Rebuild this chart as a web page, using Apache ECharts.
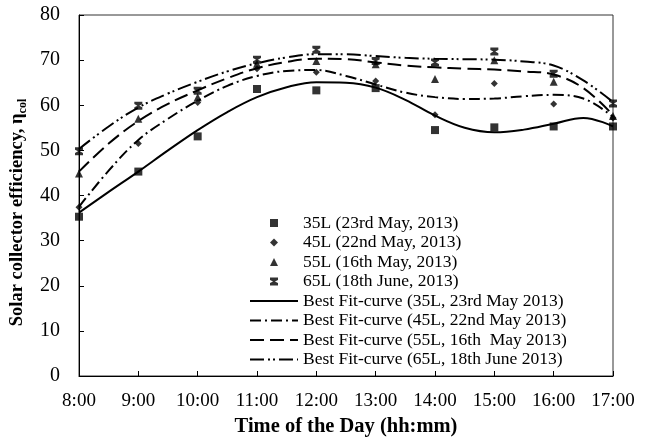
<!DOCTYPE html>
<html>
<head>
<meta charset="utf-8">
<script src="https://cdn.jsdelivr.net/npm/echarts@6/dist/echarts.min.js"></script>
<style>
html,body{margin:0;padding:0;background:#fff;}
#chart{width:652px;height:438px;}
</style>
</head>
<body>
<div id="chart"></div>
<script>
// ---- data ----
var hourX = [8, 9, 10, 11, 12, 13, 14, 15, 16, 17];
var tickLabels = ['8:00', '9:00', '10:00', '11:00', '12:00', '13:00', '14:00', '15:00', '16:00', '17:00'];

var meas35 = [35.3, 45.3, 53.1, 63.6, 63.3, 63.8, 54.5, 55.1, 55.3, 55.3];
var meas45 = [37.4, 51.5, 60.6, 68.1, 67.3, 65.4, 57.9, 64.8, 60.3, 57.2];
var meas55 = [44.9, 57.0, 61.8, 69.2, 69.8, 69.1, 65.8, 70.0, 65.2, 57.6];
var meas65 = [49.8, 59.9, 63.2, 70.1, 72.3, 69.8, 69.5, 71.9, 67.0, 60.4];

var fitX = [8, 8.5, 9, 9.5, 10, 10.5, 11, 11.5, 12, 12.5, 13, 13.5, 14, 14.5, 15, 15.5, 16, 16.5, 17];
var fit35 = [36.2, 40.8, 45.3, 50.0, 54.5, 58.5, 61.8, 64.0, 65.1, 65.0, 63.9, 61.2, 57.7, 55.0, 54.0, 54.6, 55.9, 57.2, 55.3];
var fit45 = [37.5, 45.5, 52.3, 57.0, 61.0, 64.3, 66.5, 67.6, 67.8, 66.5, 64.6, 62.8, 61.8, 61.4, 61.5, 62.0, 62.3, 61.5, 57.4];
var fit55 = [45.3, 51.5, 56.5, 60.3, 63.3, 66.0, 68.2, 69.6, 70.3, 70.2, 69.5, 68.8, 68.4, 68.1, 67.9, 67.5, 66.8, 63.8, 57.8];
var fit65 = [50.3, 55.3, 59.5, 62.6, 65.2, 67.5, 69.3, 70.6, 71.3, 71.3, 70.9, 70.5, 70.3, 70.2, 70.1, 69.7, 68.8, 65.5, 60.7];

var measNames = ['35L (23rd May, 2013)', '45L (22nd May, 2013)', '55L (16th May, 2013)', '65L (18th June, 2013)'];
var fitNames = ['Best Fit-curve (35L, 23rd May 2013)', 'Best Fit-curve (45L, 22nd May 2013)', 'Best Fit-curve (55L, 16th  May 2013)', 'Best Fit-curve (65L, 18th June 2013)'];

function pairs(xs, ys) { return xs.map(function (x, i) { return [x, ys[i]]; }); }

var serif = 'Liberation Serif';
var symSquare = 'path://M0,0L10,0L10,10L0,10Z';
var symDiamond = 'path://M5,0L10,5L5,10L0,5Z';
var symTriangle = 'path://M5,0L10,10L0,10Z';
var symHourglass = 'path://M0,0L10,0L10,3L6.2,5L10,7L10,10L0,10L0,7L3.8,5L0,3Z';

var chart = echarts.init(document.getElementById('chart'), null, {renderer: 'canvas'});

var fitDash = ['solid', [11, 4, 2, 4], [14, 6], [14, 4, 2, 3, 2, 4]];
var fitData = [fit35, fit45, fit55, fit65];
var measData = [meas35, meas45, meas55, meas65];
var measSymbols = [symSquare, symDiamond, symTriangle, symHourglass];
var measSizes = [8, 7, 8, 8];

var series = [];
fitData.forEach(function (d, i) {
  series.push({
    name: fitNames[i], type: 'line', data: pairs(fitX, d), smooth: 0.4,
    symbol: 'none', silent: true, z: 2,
    itemStyle: {color: '#000'},
    lineStyle: {color: '#000', width: 2, type: fitDash[i]}
  });
});
measData.forEach(function (d, i) {
  series.push({
    name: measNames[i], type: 'scatter', data: pairs(hourX, d),
    symbol: measSymbols[i], symbolSize: measSizes[i], silent: true, z: 3,
    itemStyle: {color: '#000'}
  });
});

var legendData = measNames.map(function (n) { return {name: n}; }).concat(
  fitNames.map(function (n) { return {name: n, itemStyle: {opacity: 0}}; })
);

chart.setOption({
  animation: false,
  backgroundColor: '#fff',
  grid: {left: 79, right: 39, top: 15, bottom: 62, show: true, borderColor: '#333', borderWidth: 1,
         containLabel: false, outerBoundsMode: 'none'},
  legend: {
    left: 249, top: 214, orient: 'vertical', padding: 0,
    itemWidth: 48, itemHeight: 8, itemGap: 1.5,
    data: legendData,
    textStyle: {fontFamily: serif, fontSize: 17.5, color: '#000'},
    backgroundColor: '#fff'
  },
  xAxis: {
    type: 'value', min: 8, max: 17, interval: 1,
    axisLine: {lineStyle: {color: '#000', width: 1}},
    axisTick: {inside: true, length: 5, lineStyle: {color: '#000'}},
    splitLine: {show: false},
    axisLabel: {
      fontFamily: serif, fontSize: 19, color: '#000', margin: 16,
      formatter: function (v) { return tickLabels[Math.round(v - 8)]; }
    },
    name: 'Time of the Day (hh:mm)', nameLocation: 'middle', nameGap: 38,
    nameTextStyle: {fontFamily: serif, fontSize: 20.5, fontWeight: 'bold', color: '#000'}
  },
  yAxis: {
    type: 'value', min: 0, max: 80, interval: 10,
    axisLine: {show: true, lineStyle: {color: '#000', width: 1}},
    axisTick: {show: true, inside: true, length: 5, lineStyle: {color: '#000'}},
    splitLine: {show: false},
    axisLabel: {fontFamily: serif, fontSize: 20, color: '#000', margin: 19},
    name: 'Solar collector efficiency, {e|η}{s|col}', nameLocation: 'middle', nameGap: 39,
    nameTextStyle: {
      fontFamily: serif, fontSize: 18.5, fontWeight: 'bold', color: '#000',
      padding: [0, 34, 0, 0],
      rich: {
        e: {fontFamily: serif, fontSize: 18.5, fontWeight: 'bold', color: '#000', verticalAlign: 'middle', lineHeight: 24},
        s: {fontFamily: serif, fontSize: 12, fontWeight: 'bold', color: '#000', verticalAlign: 'bottom', lineHeight: 24}
      }
    }
  },
  series: series
});
</script>
</body>
</html>
